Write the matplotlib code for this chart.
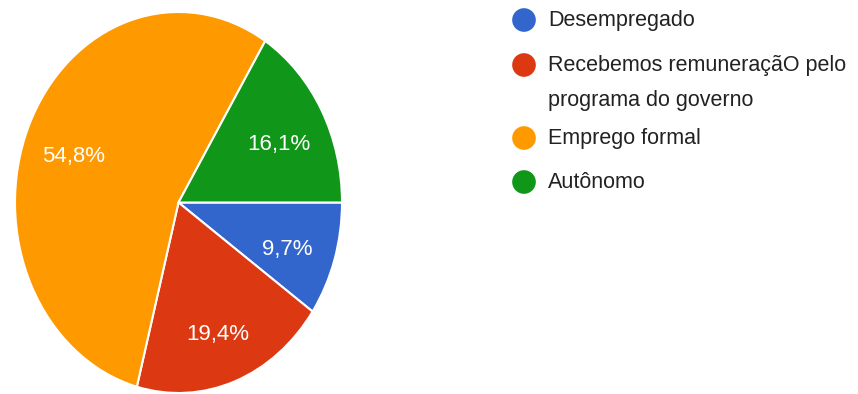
import matplotlib.pyplot as plt
import matplotlib.transforms as mtransforms

plt.rcParams['font.family'] = ['Liberation Sans', 'DejaVu Sans']

labels = ['Desempregado', 'Recebemos remuneraçãO pelo\nprograma do governo', 'Emprego formal', 'Autônomo']
values = [9.7, 19.4, 54.8, 16.1]
colors = ['#3366cc', '#dc3912', '#ff9900', '#109618']

W, H = 858, 394
fig = plt.figure(figsize=(W / 100, H / 100), dpi=100)

# pie axes (not forced to equal aspect, the chart is a bit taller than wide)
ax = fig.add_axes([15 / W, 1 / H, 327 / W, 381 / H])
wedges, texts, autotexts = ax.pie(
    values, colors=colors, startangle=0, counterclock=False, radius=1,
    autopct=lambda p: f'{p:.1f}%'.replace('.', ','), pctdistance=0.7,
    wedgeprops=dict(edgecolor='white', linewidth=1.5),
    textprops=dict(color='white', fontsize=16))
ax.set_aspect('auto')
ax.set_xlim(-1, 1)
ax.set_ylim(-1, 1)

# nudge the percentages down a little
shift = mtransforms.offset_copy(ax.transData, fig=fig, x=0, y=-7, units='dots')
for t in autotexts:
    t.set_transform(shift)

# legend drawn by hand in pixel coordinates
lax = fig.add_axes([0, 0, 1, 1])
lax.set_xlim(0, W)
lax.set_ylim(H, 0)
lax.axis('off')
legend_y = [20, 65, 138, 182]
for y, lab, c in zip(legend_y, labels, colors):
    lax.scatter([524], [y], s=290, color=c, edgecolors='none')
    for k, line in enumerate(lab.split('\n')):
        lax.text(548, y + 35 * k, line, va='center', ha='left',
                 fontsize=15.5, color='#222222')

fig.savefig('out.png', dpi=100)
